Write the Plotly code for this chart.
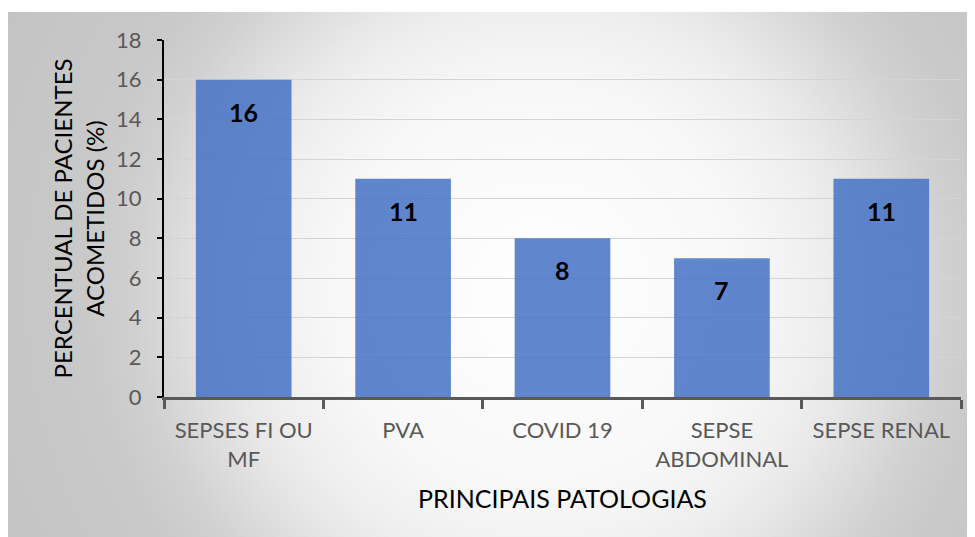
import base64
import plotly.graph_objects as go

categories = ["SEPSES FI OU<br>MF", "PVA", "COVID 19", "SEPSE<br>ABDOMINAL", "SEPSE RENAL"]
values = [16, 11, 8, 7, 11]
y_ticks = [0, 2, 4, 6, 8, 10, 12, 14, 16, 18]

W, H = 967, 529
ML, MR, MT, MB = 156, 14, 32, 140
FONT = "Lato, 'Open Sans', sans-serif"

# radial gradient background (SVG), circular in pixel units
svg = (
    '<svg xmlns="http://www.w3.org/2000/svg" width="967" height="525" viewBox="0 0 967 525" preserveAspectRatio="none">'
    '<defs><radialGradient id="g" gradientUnits="userSpaceOnUse" cx="532" cy="278" r="650" fx="532" fy="278">'
    '<stop offset="0" stop-color="#ffffff"/>'
    '<stop offset="0.31" stop-color="#f8f8f8"/>'
    '<stop offset="0.43" stop-color="#efefef"/>'
    '<stop offset="0.49" stop-color="#e7e7e7"/>'
    '<stop offset="0.62" stop-color="#d1d1d1"/>'
    '<stop offset="0.70" stop-color="#c9c9c9"/>'
    '<stop offset="1" stop-color="#c2c2c2"/>'
    '</radialGradient></defs>'
    '<rect x="0" y="0" width="967" height="525" fill="url(#g)"/></svg>'
)
src = "data:image/svg+xml;base64," + base64.b64encode(svg.encode()).decode()

pw = W - ML - MR
ph = H - MT - MB
bx0, by0, bx1, by1 = 0, 4, 967, 529

fig = go.Figure()
fig.add_trace(go.Bar(
    x=categories, y=values,
    marker=dict(color="#4472C4", opacity=0.85, line=dict(width=0)),
    width=0.6,
    hoverinfo="skip",
))

for c, v in zip(categories, values):
    fig.add_annotation(x=c, y=v, text=str(v), showarrow=False, yshift=-32,
                       yanchor="middle",
                       font=dict(family=FONT, size=25, color="#000000", weight="bold"))

fig.add_layout_image(dict(
    source=src, xref="paper", yref="paper",
    x=(bx0 - ML) / pw, y=(H - MB - by0) / ph,
    sizex=(bx1 - bx0) / pw, sizey=(by1 - by0) / ph,
    xanchor="left", yanchor="top", sizing="stretch", layer="below",
))

fig.update_layout(
    width=W, height=H,
    margin=dict(l=ML, r=MR, t=MT, b=MB, pad=0),
    paper_bgcolor="#ffffff",
    plot_bgcolor="rgba(0,0,0,0)",
    showlegend=False,
    font=dict(family=FONT),
    xaxis=dict(
        tickson="boundaries",
        ticks="outside", ticklen=9, tickwidth=3, tickcolor="#595959",
        showline=True, linecolor="#595959", linewidth=3,
        showgrid=False,
        ticklabelstandoff=12,
        tickfont=dict(family=FONT, size=22, color="#595959"),
        title=dict(text="PRINCIPAIS PATOLOGIAS", standoff=20,
                   font=dict(family=FONT, size=25, color="#000000")),
    ),
    yaxis=dict(
        range=[0, 18],
        tickvals=y_ticks,
        ticks="outside", ticklen=5, tickwidth=2, tickcolor="#000000",
        showline=True, linecolor="#000000", linewidth=2,
        showgrid=True, gridcolor="#d4d4d4", gridwidth=1,
        zeroline=False,
        ticklabelstandoff=11,
        tickfont=dict(family=FONT, size=22, color="#595959"),
        title=dict(text="PERCENTUAL DE PACIENTES<br>ACOMETIDOS (%)", standoff=5,
                   font=dict(family=FONT, size=24, color="#000000")),
    ),
)

fig.write_html("out.html")
